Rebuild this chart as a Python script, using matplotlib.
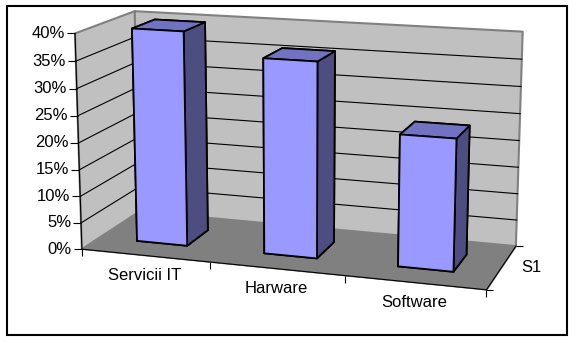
import numpy as np
import matplotlib
matplotlib.use('Agg')
import matplotlib.pyplot as plt
from mpl_toolkits.mplot3d import proj3d
from mpl_toolkits.mplot3d.art3d import Poly3DCollection
from matplotlib.transforms import offset_copy
from matplotlib.patches import Rectangle

categories = ['Servicii IT', 'Harware', 'Software']
values = [0.40, 0.36, 0.24]
series_name = 'S1'
z_ticks = [0.0, 0.05, 0.10, 0.15, 0.20, 0.25, 0.30, 0.35, 0.40]
z_tick_labels = ['0%', '5%', '10%', '15%', '20%', '25%', '30%', '35%', '40%']

plt.rcParams['font.family'] = ['Liberation Sans', 'DejaVu Sans']
FS = 12

fig = plt.figure(figsize=(5.76, 3.42), dpi=100)
ax = fig.add_axes([0.012, 0.072, 1.0, 1.0], projection='3d', computed_zorder=False)
ax.set_axis_off()
n = len(categories)
ax.set_xlim(0, n)
ax.set_ylim(0, 1)
ax.set_zlim(z_ticks[0], z_ticks[-1])
ax.set_box_aspect((410, 144, 218), zoom=1.4)
ax.view_init(elev=13.5, azim=-72)
ax.set_proj_type('persp', focal_length=0.9)

x0, x1 = ax.get_xlim()
y0, y1 = ax.get_ylim()
z0, z1 = ax.get_zlim()

wall_c = '#C0C0C0'
floor_c = '#808080'
left = [[x0, y0, z0], [x0, y1, z0], [x0, y1, z1], [x0, y0, z1]]
back = [[x0, y1, z0], [x1, y1, z0], [x1, y1, z1], [x0, y1, z1]]
floor = [[x0, y0, z0], [x1, y0, z0], [x1, y1, z0], [x0, y1, z0]]
ax.add_collection3d(Poly3DCollection([left, back], facecolor=wall_c,
                                     edgecolor='#808080', linewidth=1.5, zorder=1))
ax.add_collection3d(Poly3DCollection([floor], facecolor=floor_c,
                                     edgecolor=floor_c, linewidth=0.5, zorder=1.5))

# gridlines on walls
for z in z_ticks[1:-1]:
    ax.plot([x0, x0, x1], [y0, y1, y1], [z, z, z], color='black', lw=0.8, zorder=2)

# axis lines
ax.plot([x0, x0], [y0, y0], [z0, z1], color='black', lw=0.8, zorder=3)
ax.plot([x0, x1], [y0, y0], [z0, z0], color='black', lw=0.8, zorder=3)
ax.plot([x1, x1], [y0, y1], [z0, z0], color='black', lw=0.8, zorder=3)

# ticks
ax.plot([x0] * len(z_ticks), [y0] * len(z_ticks), z_ticks, ls='none',
        marker=0, ms=6, mec='black', mew=0.8, zorder=3)
xb = np.arange(n + 1)
ax.plot(xb, [y0] * len(xb), [z0] * len(xb), ls='none', marker=3, ms=5,
        mec='black', mew=0.8, zorder=3)
ax.plot([x1, x1], [y0, y1], [z0, z0], ls='none', marker=1, ms=5,
        mec='black', mew=0.8, zorder=3)

# bars
xc = np.arange(n) + 0.5
bw = 0.4
bd = 0.4
front_c, top_c, side_c = '#9999FF', '#7272C2', '#4D4D80'
face_cols = []
for _ in range(n):
    # order: bottom, top, -y (front), +y (back), -x (left), +x (right)
    face_cols += [side_c, top_c, front_c, side_c, side_c, side_c]
ax.bar3d(xc - bw / 2, np.full(n, 0.5 - bd / 2), np.zeros(n), bw, bd, values,
         color=face_cols, shade=False, edgecolor='black', linewidth=1.3, zorder=5)

for art in list(ax.collections) + list(ax.lines):
    art.set_clip_on(False)

# labels as 2D text at projected positions
fig.canvas.draw()
M = ax.get_proj()


def label(x, y, z, s, dx, dy, ha):
    px, py, _ = proj3d.proj_transform(x, y, z, M)
    ax.text2D(px, py, s, ha=ha, va='center', fontsize=FS, clip_on=False,
              transform=offset_copy(ax.transData, fig=fig, x=dx, y=dy, units='dots'))


for z, lbl in zip(z_ticks, z_tick_labels):
    label(x0, y0, z, lbl, -10, 0, 'right')
for xi, lbl in zip(xc, categories):
    label(xi, y0, z0, lbl, 0, -20, 'center')
label(x1, (y0 + y1) / 2, z0, series_name, 19, 0, 'left')

fig.add_artist(Rectangle((7 / 576, 1 - 335 / 342), 560 / 576, 329 / 342,
                         transform=fig.transFigure, fill=False, ec='black', lw=1.5))

fig.savefig('out.png', dpi=100)
